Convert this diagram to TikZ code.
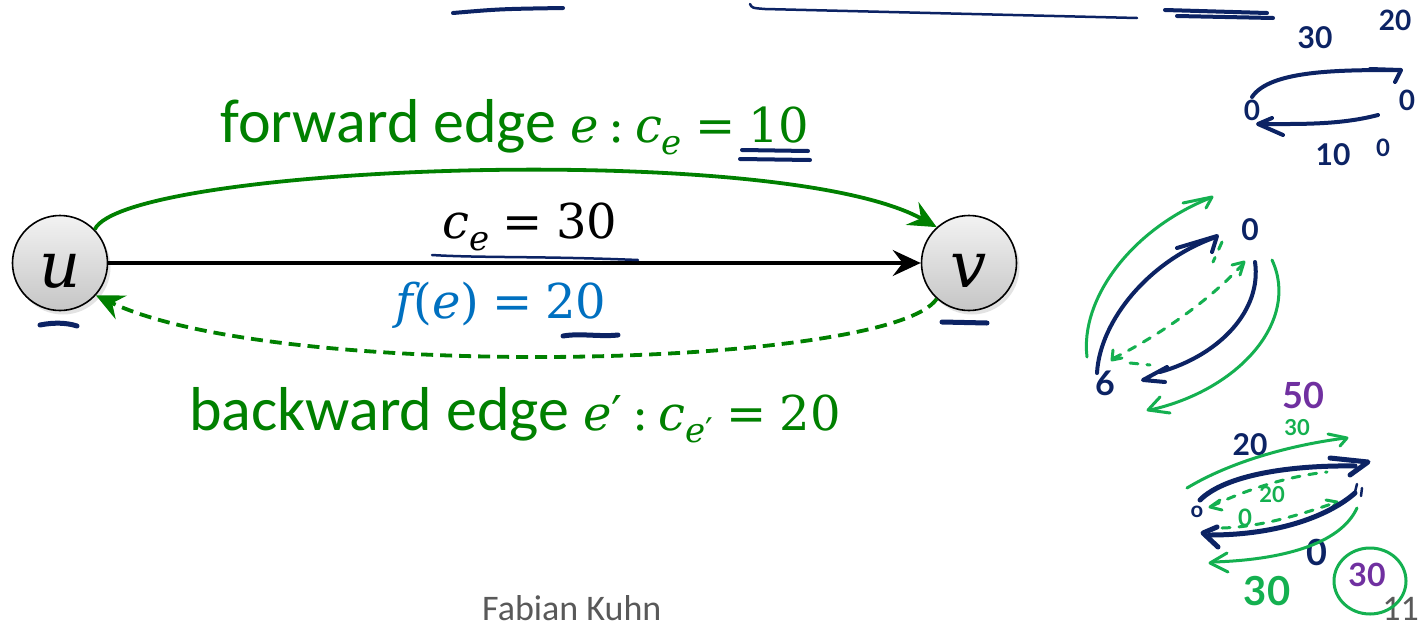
\documentclass[tikz,border=0pt]{standalone}
\usepackage{fontspec}
\setmainfont{Carlito}
\newfontfamily\mfont{DejaVu Serif}
\newfontfamily\hfont{Lato}
\usetikzlibrary{arrows.meta,shadows}
\definecolor{fgreen}{RGB}{0,128,0}
\definecolor{fblue}{RGB}{0,112,192}
\definecolor{navy}{RGB}{12,35,100}
\definecolor{hgreen}{RGB}{20,176,80}
\definecolor{hpurple}{RGB}{112,48,160}
\definecolor{footgray}{RGB}{89,89,89}
\newcommand{\mv}[1]{{\fontsize{48}{48}\selectfont\mfont\itshape #1}}
\newcommand{\mn}[1]{{\fontsize{48}{48}\selectfont\mfont #1}}
\newcommand{\msub}[1]{\raisebox{-12pt}{\fontsize{34}{34}\selectfont\mfont\itshape #1}}
\newcommand{\meq}{\hspace{13pt}\mn{=}\hspace{13pt}}
\newcommand{\mcolon}{\hspace{10pt}\mn{:}\hspace{10pt}}
\newcommand{\pr}{{\mfont\upshape ′}}
\tikzset{
  vertex/.style={circle, draw=black, line width=1.6pt, minimum size=95pt, inner sep=0pt,
    top color=gray!10, bottom color=gray!45,
    drop shadow={opacity=0.22, shadow xshift=3pt, shadow yshift=-4pt}},
  vlabel/.style={font=\fontsize{64}{64}\selectfont\mfont\itshape, inner sep=0pt, anchor=base},
  tip/.tip={Stealth[length=28pt,width=26pt,inset=10pt]},
  edge/.style={draw=black, line width=3.3pt, -tip},
  gedge/.style={draw=fgreen, line width=3.8pt, -tip},
  bedge/.style={draw=fgreen, line width=3.8pt, dash pattern=on 12pt off 7pt, -tip},
  lbl/.style={font=\fontsize{62}{70}\selectfont, inner sep=0pt, anchor=base},
  hw/.style={draw=navy, line width=4pt, line cap=round, line join=round},
  hwt/.style={draw=navy, line width=2.5pt, line cap=round, line join=round},
  hg/.style={draw=hgreen, line width=3pt, line cap=round, line join=round},
  hgd/.style={hg, dash pattern=on 8pt off 9pt},
  htxt/.style={font=\fontsize{28}{28}\selectfont\hfont\bfseries, inner sep=0pt},
}
\begin{document}
\begin{tikzpicture}[x=1pt,y=-1pt]
\useasboundingbox (0,0) rectangle (1421,627);
\fill[white] (0,0) rectangle (1421,627);

% main graph
\node[vertex] (u) at (60,263) {};
\node[vertex] (v) at (969,263) {};
\node[vlabel] (ul) at (60,287) {u};
\node[vlabel] (vl) at (969,287) {v};
\draw[edge] (u) -- (v);
\draw[gedge] (u.44) .. controls (125,165) and (780,140) .. (v.132);
\draw[bedge] (v.-132) .. controls (890,368) and (280,383) .. (u.-42);

% labels
\node[lbl, text=fgreen] (fw) at (515,142) {forward edge \mv{e}\mcolon\mv{c}\msub{e}\meq\mn{10}};
\node[lbl, text=black] (ce) at (530,238) {\mv{c}\msub{e}\meq\mn{30}};
\node[lbl, text=fblue] (fe) at (501,318) {\mv{f}\mn{(}\mv{e}\mn{)}\meq\mn{20}};
\node[lbl, text=fgreen] (bw) at (515,430) {backward edge \mv{e}{\fontsize{48}{48}\selectfont\pr}\mcolon\mv{c}\msub{e{\fontsize{34}{34}\selectfont\pr}}\meq\mn{20}};
\node[font=\fontsize{36}{40}\selectfont, text=footgray, anchor=base west, inner sep=0pt] (author) at (482,620) {Fabian Kuhn};
\node[font=\fontsize{36}{40}\selectfont, text=footgray, anchor=base east, inner sep=0pt] (page) at (1419,620) {11};

% handwritten underlines
\draw[hw] (742,150) -- (808,151);
\draw[hw] (740,159) -- (810,160);
\draw[hwt] (432,255) .. controls (480,258) and (540,256) .. (638,260);
\draw[hw, line width=5pt] (563,336) .. controls (580,333) and (600,337) .. (618,335);
\draw[hw, line width=5pt] (40,325) .. controls (55,322) and (68,323) .. (77,326);
\draw[hw, line width=5pt] (942,322) -- (987,323);

% top strokes
\draw[hw] (453,13) .. controls (500,9) .. (563,8);
\draw[hwt] (750,4) .. controls (752,8) .. (765,9) -- (1137,18);
\draw[hw] (1165,10) -- (1267,13);
\draw[hw] (1177,16) -- (1273,18);

% top-right loop
\node[htxt, text=navy, font=\fontsize{30}{30}\selectfont\hfont\bfseries] (t30) at (1315,38) {30};
\node[htxt, text=navy] (t20) at (1395,20) {20};
\node[htxt, text=navy] (t0a) at (1252,110) {0};
\node[htxt, text=navy] (t0b) at (1407,100) {0};
\node[htxt, text=navy, font=\fontsize{30}{30}\selectfont\hfont\bfseries] (t10) at (1333,155) {10};
\node[htxt, text=navy, font=\fontsize{24}{24}\selectfont\hfont\bfseries] (t0c) at (1383,148) {0};
\draw[hw] (1252,97) .. controls (1270,70) and (1340,70) .. (1400,70);
\draw[hw] (1370,69) -- (1401,70) -- (1395,82);
\draw[hw] (1378,115) .. controls (1340,125) and (1300,124) .. (1260,124);
\draw[hw] (1272,118) -- (1258,124) -- (1283,135);

% middle cluster
\draw[hg] (1087,357) .. controls (1080,300) and (1130,230) .. (1210,198);
\draw[hg] (1183,203) -- (1212,197) -- (1206,208);
\draw[hw] (1097,373) .. controls (1100,320) and (1150,260) .. (1216,237);
\draw[hw] (1177,248) -- (1217,236) -- (1212,252);
\node[htxt, text=navy, font=\fontsize{30}{30}\selectfont\hfont\bfseries] (m0) at (1250,230) {0};
\node[htxt, text=navy, font=\fontsize{34}{34}\selectfont\hfont\bfseries] (m6) at (1105,383) {6};
\draw[hw] (1255,262) .. controls (1262,310) and (1220,355) .. (1160,372);
\draw[hw] (1167,367) -- (1143,380) -- (1165,382);
\draw[hg] (1272,260) .. controls (1300,320) and (1240,390) .. (1150,410);
\draw[hg] (1160,397) -- (1148,410) -- (1170,413);
\draw[hgd] (1243,264) .. controls (1210,300) and (1160,335) .. (1114,358);
\draw[hg] (1232,265) -- (1244,262) -- (1240,275);
\draw[hg] (1113,350) -- (1112,360) -- (1122,358);
\draw[hgd] (1222,242) -- (1213,262);
\draw[hgd] (1130,363) -- (1150,365);

% bottom cluster
\node[htxt, text=hpurple, font=\fontsize{36}{36}\selectfont\hfont\bfseries] (b50) at (1303,395) {50};
\node[htxt, text=hgreen, font=\fontsize{22}{22}\selectfont\hfont\bfseries] (b30) at (1297,428) {30};
\node[htxt, text=navy, font=\fontsize{30}{30}\selectfont\hfont\bfseries] (b20) at (1250,445) {20};
\draw[hg] (1187,488) .. controls (1230,462) and (1290,445) .. (1346,438);
\draw[hg] (1328,434) -- (1347,438) -- (1340,446);
\draw[hw, line width=5pt] (1200,500) .. controls (1225,475) and (1290,465) .. (1355,466);
\draw[hw, line width=5pt] (1330,458) -- (1368,462) -- (1350,475);
\node[htxt, text=navy, font=\fontsize{22}{22}\selectfont\hfont\bfseries] (bo) at (1197,512) {o};
\draw[hgd] (1212,506) .. controls (1250,488) and (1290,476) .. (1327,472);
\draw[hg] (1220,500) -- (1210,507) -- (1222,510);
\node[htxt, text=hgreen, font=\fontsize{22}{22}\selectfont\hfont\bfseries] (b20g) at (1272,495) {20};
\node[htxt, text=hgreen, font=\fontsize{24}{24}\selectfont\hfont\bfseries] (b0g) at (1245,518) {0};
\draw[hgd] (1222,528) .. controls (1260,527) and (1300,515) .. (1337,502);
\draw[hg] (1326,500) -- (1337,502) -- (1330,510);
\draw[hw, line width=5pt] (1355,493) .. controls (1330,515) and (1280,535) .. (1210,535);
\draw[hw, line width=5pt] (1217,527) -- (1203,533) -- (1218,547);
\draw[hwt] (1355,492) -- (1357,484);
\draw[hwt] (1361,496) -- (1362,488);
\node[htxt, text=navy, font=\fontsize{36}{36}\selectfont\hfont\bfseries] (b0n) at (1317,552) {0};
\draw[hg] (1357,508) .. controls (1340,545) and (1280,560) .. (1213,562);
\draw[hg] (1227,553) -- (1210,563) -- (1228,572);
\node[htxt, text=hgreen, font=\fontsize{40}{40}\selectfont\hfont\bfseries] (b30g) at (1267,591) {30};
\draw[hg] (1370,581) ellipse [x radius=36, y radius=33];
\node[htxt, text=hpurple, font=\fontsize{32}{32}\selectfont\hfont\bfseries] (b30p) at (1367,575) {30};
\end{tikzpicture}
\end{document}
